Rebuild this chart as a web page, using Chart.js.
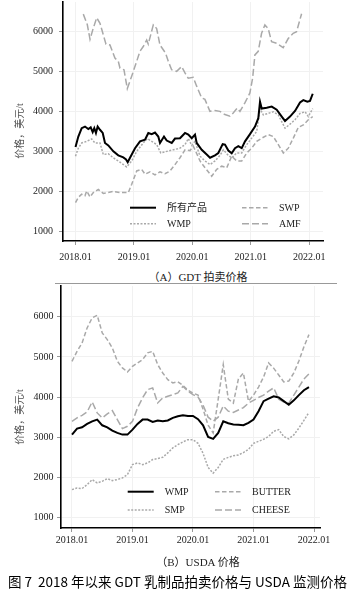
<!DOCTYPE html>
<html>
<head>
<meta charset="utf-8">
<script src="https://cdn.jsdelivr.net/npm/chart.js@4.4.0/dist/chart.umd.min.js"></script>
<style>
  body { margin: 0; width: 362px; height: 592px; background: #fff; position: relative; overflow: hidden;
         font-family: "Liberation Serif", "Noto Sans CJK SC", serif; }
  canvas { position: absolute; left: 0; }
  #chartA { top: -10px; }
  #chartB { top: 276px; }
  .ytitle { position: absolute; width: 80px; height: 12px; line-height: 12px; font-size: 10px; color: #555;
            text-align: center; transform: rotate(-90deg); white-space: nowrap; }
  .panel { position: absolute; left: 98px; width: 200px; text-align: center; font-size: 11px; line-height: 14px; color: #222; }
  .rule { position: absolute; left: 55px; width: 282px; top: 283px; height: 1px; background: #999; }
  #caption { position: absolute; left: 8px; top: 573px; font-size: 13.5px; line-height: 16px; color: #000;
             font-family: "Noto Sans CJK SC", sans-serif; white-space: pre; }
</style>
</head>
<body>
<canvas id="chartA" width="362" height="279"></canvas>
<div class="ytitle" style="left:-20px; top:125px;">价格，美元/t</div>
<div class="panel" style="top:270px;">（A）GDT 拍卖价格</div>
<div class="rule"></div>
<canvas id="chartB" width="362" height="280"></canvas>
<div class="ytitle" style="left:-20px; top:411px;">价格，美元/t</div>
<div class="panel" style="top:555px;">（B）USDA 价格</div>
<div id="caption">图 7  2018 年以来 GDT 乳制品拍卖价格与 USDA 监测价格</div>

<script>
// x positions are months counted from 2018.01
const tickMonths = [0, 12, 24, 36, 48];
const tickLabels = ['2018.01', '2019.01', '2020.01', '2021.01', '2022.01'];
const yTicks = [1000, 2000, 3000, 4000, 5000, 6000];

// GDT auction prices (USD/t)
const gdtAllMonths = [0, 0.58, 1.27, 1.95, 2.63, 3.12, 3.53, 3.86, 4.2, 4.55, 5.03, 5.59, 6.06, 6.74, 7.77, 8.79, 9.82, 10.38, 10.73, 11.2, 12.23, 13.25, 14.28, 14.96, 15.66, 16.33, 17.01, 17.36, 18.18, 18.74, 19.77, 20.44, 21.47, 22.5, 23.18, 23.88, 24.55, 24.9, 25.93, 26.96, 27.64, 28.66, 29.34, 30.24, 30.71, 31.4, 32.09, 32.77, 33.45, 34.15, 34.83, 35.85, 36.88, 37.56, 37.91, 38.26, 39.29, 40.31, 41.34, 42.37, 43.05, 44.07, 45.1, 46.13, 46.81, 47.63, 48.18, 48.74];
const gdtAllValues = [3120, 3380, 3590, 3630, 3570, 3610, 3490, 3590, 3470, 3630, 3550, 3470, 3220, 3160, 3010, 2910, 2860, 2810, 2740, 2850, 3090, 3260, 3300, 3470, 3440, 3480, 3380, 3220, 3380, 3280, 3220, 3330, 3340, 3470, 3430, 3340, 3430, 3220, 3050, 2930, 2850, 2910, 2970, 3190, 3180, 3030, 2960, 3090, 3140, 3090, 3260, 3440, 3630, 3840, 4250, 4080, 4100, 4130, 4050, 3880, 3770, 3880, 4020, 4230, 4290, 4250, 4270, 4450];

const gdtWmpMonths = [0, 0.58, 1.27, 2.3, 3.33, 4.0, 5.03, 5.71, 6.74, 7.77, 9.14, 10.52, 11.55, 12.57, 13.93, 14.75, 15.66, 16.68, 17.51, 18.74, 20.09, 21.47, 22.5, 23.18, 23.88, 24.55, 25.58, 26.61, 27.64, 28.66, 29.69, 30.37, 31.4, 32.09, 33.12, 34.15, 35.18, 36.2, 37.23, 37.91, 38.59, 39.61, 40.64, 41.67, 43.05, 44.07, 45.1, 46.13, 47.16, 47.83, 48.74];
const gdtWmpValues = [2890, 3090, 3220, 3260, 3320, 3220, 3220, 2930, 2950, 2850, 2740, 2620, 2770, 3010, 3220, 3330, 3260, 3180, 2970, 3010, 3050, 3090, 3180, 3330, 3160, 3260, 2890, 2770, 2680, 2770, 2910, 3050, 2910, 2850, 2970, 2970, 3180, 3340, 3510, 4080, 3920, 3960, 4000, 3920, 3590, 3690, 3800, 3960, 4000, 3880, 4080];

const gdtSwpMonths = [0, 0.58, 1.27, 1.95, 2.3, 2.98, 3.66, 4.68, 5.71, 6.74, 7.77, 9.14, 10.85, 11.55, 12.57, 13.6, 14.28, 15.31, 16.33, 17.36, 18.39, 19.42, 20.44, 21.47, 22.5, 23.53, 24.2, 24.55, 25.58, 26.61, 27.98, 29.01, 30.04, 31.07, 32.09, 33.12, 34.15, 35.18, 36.2, 37.23, 38.26, 39.61, 40.64, 41.46, 42.7, 43.72, 44.75, 45.78, 46.81, 47.83, 48.74];
const gdtSwpValues = [1730, 1860, 1940, 1900, 2020, 1870, 1980, 2060, 1960, 1980, 2010, 1980, 1980, 2190, 2520, 2560, 2440, 2500, 2420, 2500, 2450, 2520, 2680, 2850, 3050, 3030, 3140, 3050, 2770, 2600, 2390, 2560, 2640, 2600, 2890, 2770, 2770, 2970, 3090, 3260, 3340, 3430, 3380, 3220, 2970, 3090, 3340, 3610, 3670, 3800, 3880];

const gdtAmfMonths = [1.6, 2.42, 2.98, 3.53, 4.35, 5.03, 6.26, 7.08, 8.1, 8.79, 9.14, 9.96, 10.64, 11.54, 12.57, 13.24, 13.92, 14.62, 14.95, 15.98, 16.67, 17.35, 18.03, 18.52, 19.06, 19.75, 20.78, 21.81, 22.49, 23.16, 24.19, 24.89, 25.91, 26.59, 27.62, 28.64, 29.67, 30.7, 31.72, 32.4, 33.22, 33.78, 34.8, 35.83, 36.39, 36.86, 37.54, 38.23, 38.91, 39.59, 40.29, 41.31, 42.67, 43.7, 44.72, 45.42, 46.45];
const gdtAmfValues = [6440, 6180, 5810, 6040, 6350, 6210, 5690, 5670, 5340, 5260, 5090, 5050, 4580, 4890, 5260, 5510, 5630, 5790, 5690, 6170, 6080, 5670, 5550, 5460, 5260, 5050, 5010, 5130, 4970, 4840, 4860, 4640, 4350, 4310, 4010, 4030, 4010, 3930, 3890, 3970, 4090, 4010, 4220, 4470, 4840, 5420, 5510, 5960, 6170, 6080, 5750, 5710, 5600, 5830, 5960, 6000, 6450];

// USDA monthly prices (USD/t), 2018.01 - 2021.12
const usdaMonths = [0, 1, 2, 3, 4, 5, 6, 7, 8, 9, 10, 11, 12, 13, 14, 15, 16, 17, 18, 19, 20, 21, 22, 23, 24, 25, 26, 27, 28, 29, 30, 31, 32, 33, 34, 35, 36, 37, 38, 39, 40, 41, 42, 43, 44, 45, 46, 47];
const usdaWmp = [3067, 3216, 3249, 3333, 3398, 3440, 3299, 3249, 3167, 3109, 3067, 3067, 3191, 3333, 3440, 3440, 3383, 3420, 3400, 3420, 3483, 3522, 3547, 3530, 3530, 3450, 3300, 3010, 2960, 3110, 3400, 3350, 3320, 3310, 3300, 3360, 3440, 3650, 3900, 3960, 4020, 3990, 3900, 3810, 3920, 4050, 4170, 4250];
const usdaButter = [4891, 5139, 5348, 5721, 5970, 6035, 5597, 5430, 5224, 4891, 4726, 4627, 4766, 4851, 4933, 5100, 5139, 4808, 4600, 4435, 4353, 4380, 4290, 4170, 4100, 4050, 3700, 3300, 3109, 3950, 4808, 3950, 3850, 4450, 4600, 3900, 4050, 4250, 4500, 4850, 4720, 4550, 4380, 4400, 4600, 4900, 5250, 5555];
const usdaSmp = [1699, 1741, 1725, 1823, 1948, 1866, 1906, 1973, 1923, 1948, 1990, 2072, 2321, 2363, 2321, 2363, 2446, 2470, 2503, 2612, 2736, 2818, 2885, 2942, 2940, 2850, 2600, 2250, 2110, 2250, 2450, 2500, 2540, 2560, 2620, 2700, 2850, 2900, 2950, 3020, 3150, 3190, 3020, 2960, 3060, 3230, 3420, 3620];
const usdaCheese = [3398, 3483, 3547, 3632, 3881, 3607, 3483, 3582, 3664, 3440, 3216, 3274, 3398, 3731, 3980, 4187, 4229, 3855, 3980, 4020, 4062, 4104, 4268, 4144, 4062, 4000, 3800, 3500, 3400, 3500, 3780, 3650, 3620, 3680, 3740, 3850, 3920, 3990, 4050, 4150, 4230, 3950, 3880, 3850, 4050, 4250, 4450, 4580];

const GRAY = '#a9a9a9';
const tickFont = { family: '"Liberation Serif", serif', size: 10 };

function pts(xs, ys) {
  return xs.map((x, i) => ({ x: x, y: ys[i] }));
}

// two-column legend drawn inside the plot
const gridLegend = {
  id: 'gridLegend',
  afterDatasetsDraw(chart, args, opts) {
    const ctx = chart.ctx;
    const area = chart.chartArea;
    ctx.save();
    chart.data.datasets.forEach((ds, i) => {
      const x = area.left + opts.x[i % 2];
      const y = area.top + opts.y[Math.floor(i / 2)];
      ctx.strokeStyle = ds.borderColor;
      ctx.lineWidth = ds.borderWidth;
      ctx.setLineDash(ds.borderDash || []);
      ctx.beginPath();
      ctx.moveTo(x, y);
      ctx.lineTo(x + 26, y);
      ctx.stroke();
      ctx.setLineDash([]);
      ctx.fillStyle = '#222';
      ctx.font = '10px "Liberation Serif", "Noto Sans CJK SC", serif';
      ctx.textBaseline = 'middle';
      ctx.fillText(ds.label, x + 37, y + 0.5);
    });
    ctx.restore();
  }
};

function makeChart(id, datasets, c) {
  return new Chart(document.getElementById(id), {
    type: 'line',
    data: { datasets: datasets },
    options: {
      responsive: false,
      animation: false,
      devicePixelRatio: 1,
      layout: { padding: { top: 10, right: c.padRight, left: 0, bottom: 0 } },
      elements: { point: { radius: 0 }, line: { tension: 0 } },
      plugins: {
        legend: { display: false },
        tooltip: { enabled: false },
        gridLegend: c.legend
      },
      scales: {
        x: {
          type: 'linear', min: c.xMin, max: c.xMax,
          afterBuildTicks: s => { s.ticks = tickMonths.map(v => ({ value: v })); },
          afterFit: s => { s.height = 28; },
          ticks: { font: tickFont, color: '#222', padding: c.xPad, maxRotation: 0, autoSkip: false,
                   callback: v => tickLabels[tickMonths.indexOf(v)] },
          grid: { color: '#f1f1f1', tickLength: 4, tickColor: '#999' },
          border: { color: '#000', width: 1.6 }
        },
        y: {
          min: c.yMin, max: c.yMax,
          afterBuildTicks: s => { s.ticks = yTicks.map(v => ({ value: v })); },
          afterFit: s => { s.width = c.yWidth; },
          ticks: { font: tickFont, color: '#222', padding: c.yPad, callback: v => String(v) },
          grid: { color: '#f1f1f1', tickLength: 4, tickColor: '#999' },
          border: { color: '#000', width: 1.6 }
        }
      }
    },
    plugins: [gridLegend]
  });
}

makeChart('chartA', [
  { label: '所有产品', data: pts(gdtAllMonths, gdtAllValues), borderColor: '#000', borderWidth: 2, order: 0 },
  { label: 'SWP', data: pts(gdtSwpMonths, gdtSwpValues), borderColor: GRAY, borderWidth: 1.5, borderDash: [4.5, 2.5], order: 1 },
  { label: 'WMP', data: pts(gdtWmpMonths, gdtWmpValues), borderColor: GRAY, borderWidth: 1.5, borderDash: [2, 1.5], order: 1 },
  { label: 'AMF', data: pts(gdtAmfMonths, gdtAmfValues), borderColor: GRAY, borderWidth: 1.5, borderDash: [7, 3], order: 1 }
], { xMin: -2.57, xMax: 50.85, yMin: 770, yMax: 6743, yWidth: 63, padRight: 39, xPad: 6, yPad: 6,
     legend: { x: [67, 179], y: [205.7, 221.7] } });

makeChart('chartB', [
  { label: 'WMP', data: pts(usdaMonths, usdaWmp), borderColor: '#000', borderWidth: 2, order: 0 },
  { label: 'BUTTER', data: pts(usdaMonths, usdaButter), borderColor: GRAY, borderWidth: 1.5, borderDash: [4.5, 2.5], order: 1 },
  { label: 'SMP', data: pts(usdaMonths, usdaSmp), borderColor: GRAY, borderWidth: 1.5, borderDash: [2, 1.5], order: 1 },
  { label: 'CHEESE', data: pts(usdaMonths, usdaCheese), borderColor: GRAY, borderWidth: 1.5, borderDash: [7, 3], order: 1 }
], { xMin: -2.18, xMax: 49.19, yMin: 744, yMax: 6764, yWidth: 61, padRight: 42, xPad: 2, yPad: 3.5,
     legend: { x: [66.7, 154], y: [205.7, 224] } });
</script>
</body>
</html>
